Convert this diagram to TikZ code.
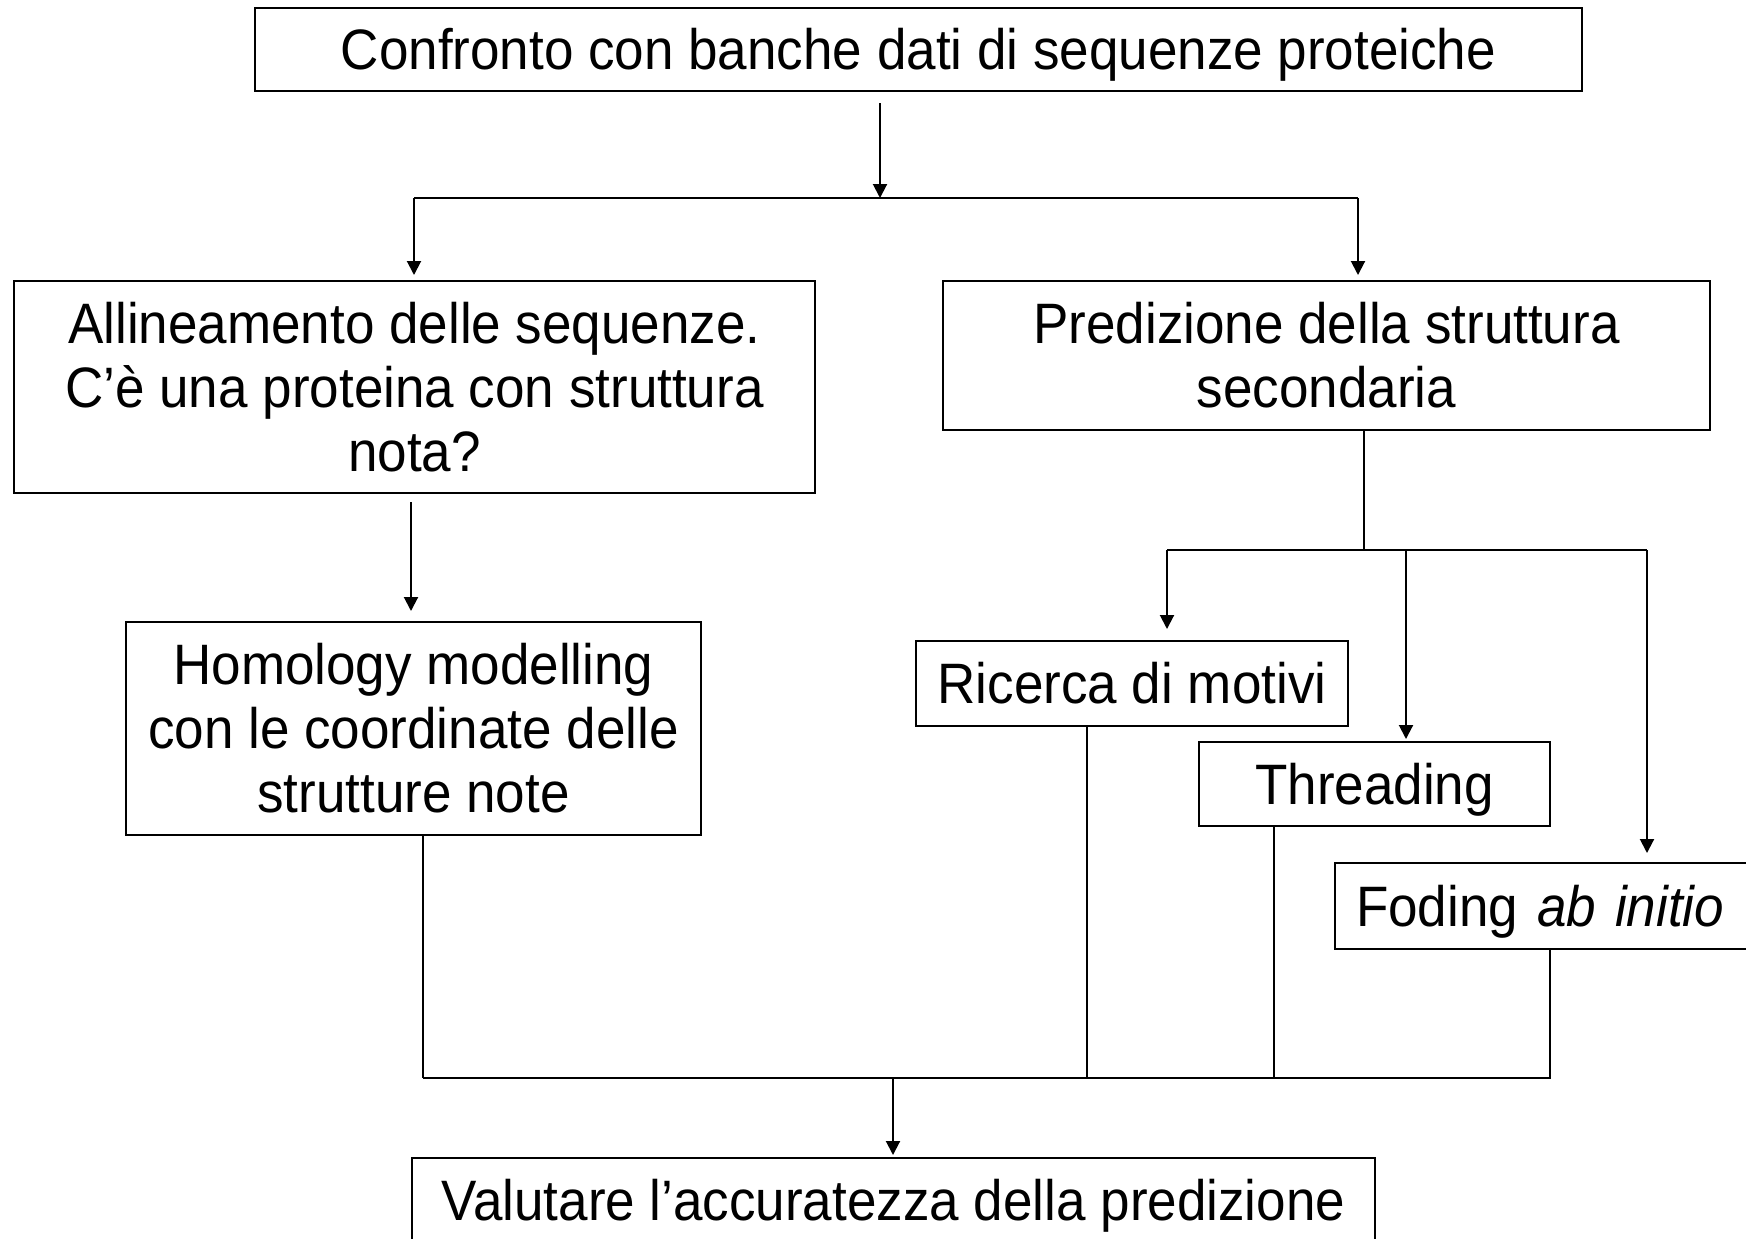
\documentclass[tikz,border=0pt]{standalone}
\usepackage{fontspec}
\setmainfont{Liberation Sans}[FakeStretch=0.93]
\usetikzlibrary{arrows.meta}

\tikzset{
    box/.style={draw, line width=1pt, align=center, inner sep=0pt,
        font=\fontsize{28.5}{32}\selectfont},
    oneline/.style={text height=20.4pt, text depth=0pt},
    link/.style={line width=1pt},
    arrow/.style={line width=1pt, -{Triangle[length=7pt,width=7pt]}}
}

\begin{document}
\begin{tikzpicture}[x=0.5pt, y=-0.5pt]
    \useasboundingbox (0,0) rectangle (1746,1238);

    % Draw nodes
    \node[box, oneline, minimum width=663.5pt, minimum height=41.5pt] (confronto) at (918.5,49.5)
        {Confronto con banche dati di sequenze proteiche};
    \node[box, minimum width=400.5pt, minimum height=106pt] (allineamento) at (414.5,387)
        {Allineamento delle sequenze.\\C’è una proteina con struttura\\nota?};
    \node[box, minimum width=383.5pt, minimum height=74.5pt] (predizione) at (1326.5,355.5)
        {Predizione della struttura\\secondaria};
    \node[box, minimum width=287.5pt, minimum height=106.5pt] (homology) at (413.5,728.5)
        {Homology modelling\\con le coordinate delle\\strutture note};
    \node[box, oneline, minimum width=216pt, minimum height=42.5pt] (ricerca) at (1132,683.5)
        {Ricerca di motivi};
    \node[box, oneline, minimum width=175.5pt, minimum height=42pt] (threading) at (1374.5,784)
        {Threading};
    \node[box, oneline, anchor=west, align=left, text width=200pt, inner xsep=10.5pt,
        minimum height=43pt] (folding) at (1334,906)
        {Foding \textit{ab initio}};
    \node[box, oneline, minimum width=481.5pt, minimum height=42.5pt] (valutare) at (893.5,1200.5)
        {Valutare l’accuratezza della predizione};

    % Junctions
    \coordinate (split1) at (880,198);
    \coordinate (split2) at (1364,550);
    \coordinate (merge) at (893,1078);

    % Draw directed edges
    \draw[arrow, shorten <=5.5pt] (confronto.south -| split1) -- (split1);
    \draw[link] (414,198) -- (1358,198);
    \draw[arrow, shorten >=2.5pt] (414,198) -- (allineamento.north -| 414,0);
    \draw[arrow, shorten >=2.5pt] (1358,198) -- (predizione.north -| 1358,0);
    \draw[arrow, shorten <=4pt, shorten >=5pt] (allineamento.south -| 411,0) -- (homology.north -| 411,0);

    \draw[link] (predizione.south -| split2) -- (split2);
    \draw[link] (1167,550) -- (1647,550);
    \draw[arrow, shorten >=5.5pt] (1167,550) -- (ricerca.north -| 1167,0);
    \draw[arrow, shorten >=1pt] (1406,550) -- (threading.north -| 1406,0);
    \draw[arrow, shorten >=4.5pt] (1647,550) -- (folding.north -| 1647,0);

    \draw[link] (homology.south -| 423,0) -- (423,1078);
    \draw[link] (ricerca.south -| 1087,0) -- (1087,1078);
    \draw[link] (threading.south -| 1274,0) -- (1274,1078);
    \draw[link] (folding.south -| 1550,0) -- (1550,1078) -- (423,1078);
    \draw[arrow, shorten >=1pt] (merge) -- (valutare.north -| merge);
\end{tikzpicture}
\end{document}
